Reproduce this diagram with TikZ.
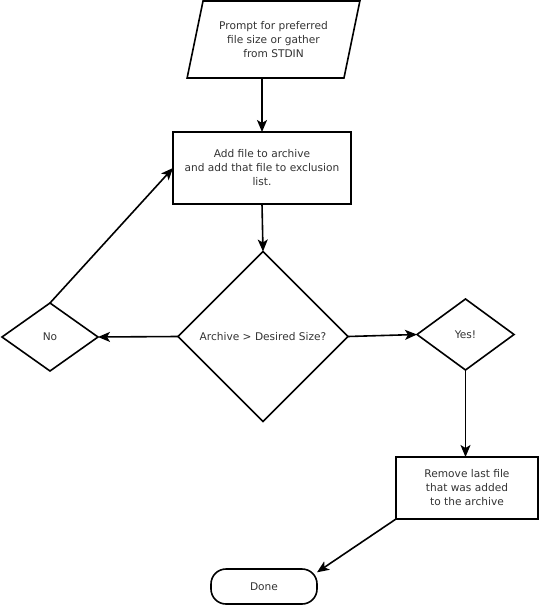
\documentclass[tikz,border=0pt]{standalone}
\usepackage{fontspec}
\setmainfont{DejaVu Sans}
\usetikzlibrary{shapes.geometric,arrows.meta}
\begin{document}
\begin{tikzpicture}[x=1pt,y=-1pt,
  every node/.style={font=\fontsize{10.6}{14}\selectfont, text=black!80, align=center, inner sep=0pt, outer sep=0pt},
  shp/.style={draw=black, line width=1.6pt, fill=white},
  io/.style={shp, trapezium, trapezium left angle=71.3, trapezium right angle=108.7, trapezium stretches=true, minimum width=173pt, minimum height=77pt},
  proc/.style={shp, rectangle},
  dec/.style={shp, diamond},
  term/.style={shp, rectangle, rounded corners=15pt, minimum width=106pt, minimum height=35pt},
  arr/.style={line width=1.6pt, -{Stealth[length=12pt,width=10pt,inset=3pt]}}]
\useasboundingbox (0,0) rectangle (540,607);
\fill[white] (0,0) rectangle (540,607);
\node[io] (prompt) at (273.5,39.5) {Prompt for preferred\\file size or gather\\from STDIN};
\node[proc, minimum width=178pt, minimum height=72pt] (add) at (262,168) {Add file to archive\\and add that file to exclusion\\list.};
\node[dec, minimum width=170pt, minimum height=170pt] (chk) at (263,336.5) {Archive > Desired Size?};
\node[dec, minimum width=96pt, minimum height=68pt] (no) at (50,337) {No};
\node[dec, minimum width=97pt, minimum height=71pt] (yes) at (465.5,334.5) {Yes!};
\node[proc, minimum width=142pt, minimum height=62pt] (rem) at (467,488) {Remove last file\\that was added\\to the archive};
\node[term] (done) at (264,586.5) {Done};
\draw[arr] (prompt.south -| add.north) -- (add.north);
\draw[arr] (add.south) -- (chk.north);
\draw[arr] (chk.west) -- (no.east);
\draw[arr] (no.north) -- (add.west);
\draw[arr] (chk.east) -- (yes.west);
\draw[arr] (yes.south) -- (rem.north -| yes.south);
\draw[arr] (rem.south west) -- (done.15);
\end{tikzpicture}
\end{document}
